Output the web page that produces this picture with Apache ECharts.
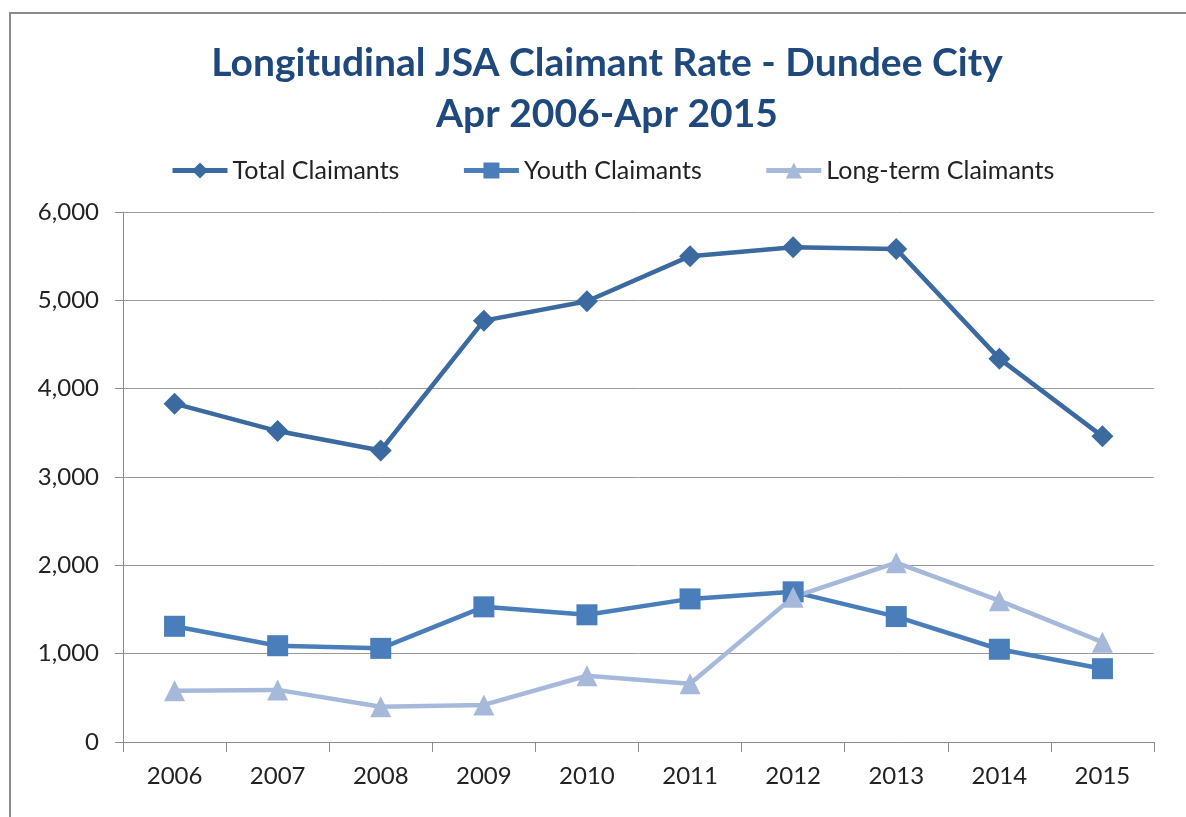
<!DOCTYPE html>
<html>
<head>
<meta charset="utf-8">
<script src="https://cdn.jsdelivr.net/npm/echarts@6/dist/echarts.min.js"></script>
<style>
  html, body { margin: 0; padding: 0; background: #fff; }
  #frame { position: absolute; left: 9px; top: 12px; width: 1177px; height: 805px;
           border-top: 2px solid #8a8a8a; border-left: 2px solid #8a8a8a; box-sizing: border-box; }
  #chart { position: absolute; left: 0; top: 0; width: 1186px; height: 817px; }
</style>
</head>
<body>
<div id="frame"></div>
<div id="chart"></div>
<script>
const years = ["2006", "2007", "2008", "2009", "2010", "2011", "2012", "2013", "2014", "2015"];
const totalClaimants = [3830, 3520, 3300, 4770, 4990, 5500, 5600, 5580, 4340, 3460];
const youthClaimants = [1310, 1090, 1060, 1530, 1440, 1620, 1700, 1420, 1050, 830];
const longTermClaimants = [580, 590, 400, 420, 750, 660, 1640, 2030, 1600, 1130];

const FONT = "Lato, 'Open Sans', sans-serif";

const chart = echarts.init(document.getElementById("chart"));

function lineSeries(name, data, color, symbol, size) {
  return {
    name: name,
    type: "line",
    data: data,
    symbol: symbol,
    symbolSize: size,
    lineStyle: { color: color, width: 4.5 },
    itemStyle: { color: color },
    emphasis: { disabled: true }
  };
}

chart.setOption({
  animation: false,
  title: {
    text: "Longitudinal JSA Claimant Rate - Dundee City\nApr 2006-Apr 2015",
    left: 602,
    textAlign: "center",
    top: 33,
    textStyle: { fontFamily: FONT, fontWeight: "bold", fontSize: 39, color: "#1f497d", lineHeight: 51 }
  },
  legend: {
    top: 153,
    left: 165,
    itemGap: 62,
    itemWidth: 55,
    itemHeight: 20,
    lineStyle: { width: 5 },
    textStyle: { fontFamily: FONT, fontSize: 25, color: "#222" },
    data: ["Total Claimants", "Youth Claimants", "Long-term Claimants"]
  },
  grid: { left: 123, right: 32, top: 212, bottom: 75 },
  xAxis: {
    type: "category",
    data: years,
    boundaryGap: true,
    axisLine: { lineStyle: { color: "#8c8c8c", width: 1 } },
    axisTick: { show: true, length: 10, lineStyle: { color: "#8c8c8c" } },
    axisLabel: { fontFamily: FONT, fontSize: 24, color: "#222", margin: 22 }
  },
  yAxis: {
    type: "value",
    min: 0,
    max: 6000,
    interval: 1000,
    axisLine: { show: true, lineStyle: { color: "#8c8c8c", width: 1 } },
    axisTick: { show: true, length: 8, lineStyle: { color: "#8c8c8c" } },
    splitLine: { lineStyle: { color: "#9a9a9a", width: 1 } },
    axisLabel: {
      fontFamily: FONT, fontSize: 24, color: "#222", margin: 24,
      formatter: v => v.toLocaleString("en-US")
    }
  },
  series: [
    lineSeries("Total Claimants", totalClaimants, "#3b6aa0", "diamond", 22),
    lineSeries("Youth Claimants", youthClaimants, "#4a7ebb", "rect", 21),
    lineSeries("Long-term Claimants", longTermClaimants, "#a6b9da", "triangle", 21)
  ]
});
</script>
</body>
</html>
